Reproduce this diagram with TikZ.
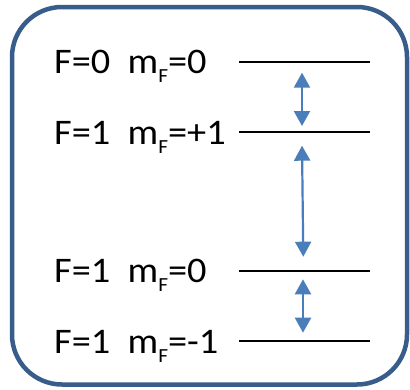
\documentclass[tikz,border=0pt]{standalone}
\usepackage{fontspec}
\setmainfont{Carlito}[FakeStretch=1.065]
\usetikzlibrary{arrows.meta}
\definecolor{cFrame}{HTML}{385D8A}
\definecolor{cArrow}{HTML}{4A7EBB}
\newcommand{\mF}{m\raisebox{-9pt}{\fontsize{20}{20}\selectfont F}}

\begin{document}
\begin{tikzpicture}[
  x=1pt, y=-1pt,
  frame/.style={draw=cFrame, fill=white, line width=4.5pt, rounded corners=50pt},
  level/.style={draw=black, line width=2pt},
  lbl/.style={anchor=base west, inner sep=0pt, font=\fontsize{36}{40}\selectfont},
  trans/.style={{Triangle[length=15pt,width=16pt]}-{Triangle[length=15pt,width=16pt]},
                draw=cArrow, line width=2.2pt},
]
\useasboundingbox (0,0) rectangle (410,389);
\draw[frame] (12,7) rectangle (407,384.5);

% labels
\node[lbl] (lbl00) at (54,73.5) {F=0~~\mF=0};
\node[lbl] (lbl1p) at (54,144) {F=1~~\mF=+1};
\node[lbl] (lbl10) at (54,282.5) {F=1~~\mF=0};
\node[lbl] (lbl1m) at (54,353) {F=1~~\mF=-1};

% levels
\coordinate (lv00w) at (239,61.7);  \coordinate (lv00e) at (370,61.7);
\coordinate (lv1pw) at (239,132.3); \coordinate (lv1pe) at (370,132.3);
\coordinate (lv10w) at (239,270.7); \coordinate (lv10e) at (370,270.7);
\coordinate (lv1mw) at (239,341);   \coordinate (lv1me) at (370,341);
\draw[level] (lv00w) -- (lv00e);
\draw[level] (lv1pw) -- (lv1pe);
\draw[level] (lv10w) -- (lv10e);
\draw[level] (lv1mw) -- (lv1me);

% transitions
\coordinate (t1a) at (302,72.7);  \coordinate (t1b) at (302,126);
\coordinate (t2a) at (302,145.7); \coordinate (t2b) at (303.3,256.7);
\coordinate (t3a) at (303,279.3); \coordinate (t3b) at (303,332.7);
\draw[trans] (t1a) -- (t1b);
\draw[trans] (t2a) -- (t2b);
\draw[trans] (t3a) -- (t3b);
\end{tikzpicture}
\end{document}
